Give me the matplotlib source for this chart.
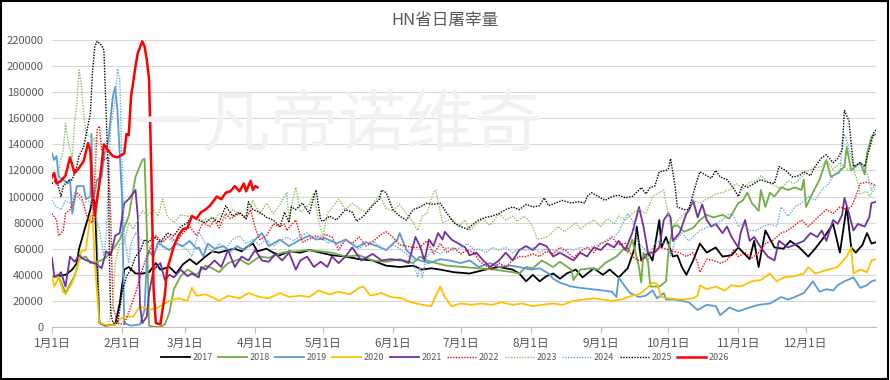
import matplotlib
matplotlib.use("Agg")
import matplotlib.pyplot as plt
from matplotlib.patches import Rectangle

plt.rcParams['font.family'] = ['Noto Sans CJK SC', 'DejaVu Sans']

# day of year -> daily slaughter (thousand head)
d2017 = [(0,38),(3,39),(6,40),(9,44),(11,49),(12,60),(15,78),(17,90),(18,99),(19,96),(20,50),(21,3),(24,1),(28,2),(30,18),(32,44),(34,46),(37,41),(40,41),(43,42),(46,49),(48,44),(52,46),(55,41),(58,48),(61,52),(64,48),(68,54),(71,58),(74,57),(78,59),(81,60),(84,58),(86,61),(89,64),(91,58),(95,60),(98,57),(101,55),(105,58),(110,57),(114,59),(119,57),(124,55),(130,54),(136,52),(142,51),(148,47),(154,46),(160,47),(164,44),(168,45),(172,44),(178,42),(185,41),(192,44),(198,46),(204,44),(207,41),(210,35),(213,40),(216,35),(219,39),(222,41),(225,37),(228,41),(232,44),(235,38),(240,45),(244,40),(247,44),(251,38),(255,45),(258,60),(259,77),(261,51),(264,57),(266,51),(269,82),(270,61),(272,69),(275,54),(277,55),(279,46),(281,40),(284,51),(287,64),(290,57),(294,61),(297,54),(301,55),(304,61),(309,52),(311,66),(313,46),(316,74),(320,61),(324,60),(327,66),(331,61),(335,54),(338,60),(342,69),(346,79),(349,57),(352,92),(354,61),(356,57),(359,63),(361,72),(363,64),(365,65)]
d2018 = [(0,38),(3,39),(6,26),(8,33),(10,39),(12,52),(15,54),(17,49),(20,50),(23,52),(26,57),(30,67),(34,85),(37,115),(40,128),(41,129),(42,75),(43,1),(46,0),(48,0),(50,2),(52,11),(54,29),(57,39),(60,44),(64,40),(68,47),(71,45),(74,42),(78,49),(83,52),(87,48),(92,54),(96,53),(102,57),(108,58),(113,59),(119,58),(124,57),(130,54),(136,55),(142,51),(148,50),(154,52),(160,49),(163,54),(166,51),(170,49),(175,47),(182,46),(189,45),(196,44),(204,42),(207,41),(210,46),(213,45),(217,51),(222,46),(225,50),(230,44),(231,36),(234,44),(239,45),(242,44),(245,49),(250,54),(254,61),(255,57),(257,67),(260,46),(261,34),(262,57),(264,50),(265,31),(269,31),(272,35),(273,57),(275,77),(277,78),(280,73),(284,76),(287,82),(290,86),(293,84),(297,86),(300,83),(304,95),(306,97),(308,103),(310,95),(313,89),(314,105),(316,92),(318,103),(320,100),(323,107),(326,105),(329,107),(332,105),(333,113),(334,92),(337,103),(340,113),(343,128),(345,115),(348,118),(351,123),(352,138),(354,120),(356,123),(358,126),(360,117),(361,133),(363,146),(365,148)]
d2019 = [(0,133),(1,128),(2,131),(3,115),(5,113),(7,110),(8,113),(9,87),(11,108),(14,108),(15,98),(17,100),(17.5,148),(18,95),(20,113),(22,115),(23,130),(25,143),(26,161),(27,177),(28,184),(29,166),(31,100),(32,3),(35,1),(39,2),(41,13),(42,52),(43,58),(45,54),(47,65),(49,62),(52,59),(55,64),(58,62),(61,66),(64,60),(65,61),(67,54),(69,64),(72,60),(76,62),(79,58),(82,62),(85,59),(90,67),(93,72),(96,62),(101,67),(105,62),(110,67),(114,70),(117,67),(121,68),(126,64),(130,67),(135,61),(139,65),(144,62),(148,59),(153,67),(154,72),(157,59),(161,52),(163,51),(167,49),(172,52),(176,51),(181,49),(185,51),(189,46),(194,49),(198,46),(203,47),(207,46),(212,44),(216,45),(220,41),(222,37),(225,34),(230,31),(234,30),(239,29),(244,28),(248,27),(250,23),(251,38),(253,33),(256,26),(260,23),(263,24),(266,28),(268,22),(271,26),(272,21),(276,21),(282,19),(286,13),(290,17),(294,16),(296,9),(300,15),(304,12),(309,15),(313,17),(318,18),(323,23),(326,21),(329,23),(333,26),(337,35),(340,27),(343,29),(346,28),(348,32),(351,35),(355,38),(358,30),(361,32),(363,35),(365,36)]
d2020 = [(0,39),(1,31),(3,38),(5,27),(6,25),(9,34),(11,44),(13,58),(15,59),(17,85),(18,86),(19,49),(21,3),(25,1),(28,2),(30,6),(32,8),(36,8),(39,16),(43,13),(47,15),(52,20),(56,22),(60,20),(62,30),(64,24),(68,25),(72,22),(74,20),(78,24),(83,22),(87,26),(92,23),(96,22),(101,26),(105,23),(110,24),(114,23),(118,28),(123,25),(127,27),(132,25),(136,30),(138,31),(141,24),(146,26),(150,23),(155,22),(159,19),(164,17),(168,16),(170,24),(172,31),(174,23),(177,16),(181,18),(186,17),(190,18),(195,17),(199,19),(204,17),(208,18),(213,16),(217,17),(222,18),(226,17),(231,20),(235,21),(240,22),(244,21),(248,20),(252,21),(257,24),(260,25),(263,29),(266,34),(268,33),(270,23),(273,22),(279,21),(284,22),(286,24),(287,32),(290,29),(294,31),(298,28),(301,32),(305,31),(310,35),(314,36),(318,41),(321,35),(324,38),(329,39),(333,41),(335,46),(338,41),(344,44),(348,46),(352,54),(354,61),(355,41),(358,44),(361,42),(363,51),(365,52)]
d2021 = [(0,53),(1,39),(3,40),(4,42),(6,31),(8,54),(10,50),(12,55),(14,52),(17,50),(20,48),(22,45),(24,58),(26,55),(28,70),(30,72),(32,95),(34,98),(37,105),(38,85),(39,16),(40,3),(42,8),(43,26),(45,44),(48,49),(50,36),(52,40),(54,38),(57,44),(60,39),(62,41),(65,38),(66,46),(68,44),(72,51),(75,46),(78,59),(81,46),(84,54),(87,51),(90,59),(93,51),(96,50),(99,56),(102,51),(105,57),(108,44),(110,51),(113,54),(116,46),(119,50),(122,46),(124,54),(127,49),(130,54),(133,61),(135,56),(137,51),(142,56),(146,51),(150,52),(155,51),(158,49),(161,69),(163,62),(165,51),(167,67),(169,62),(171,72),(173,67),(174,73),(177,67),(180,64),(183,61),(185,55),(188,57),(191,51),(194,46),(198,51),(201,57),(204,51),(207,59),(210,62),(213,59),(216,64),(219,62),(222,54),(225,57),(228,54),(231,51),(234,57),(237,54),(240,61),(243,59),(246,64),(249,61),(251,66),(254,59),(257,72),(259,85),(260,92),(262,77),(264,57),(267,57),(269,61),(271,82),(273,87),(274,84),(275,66),(278,72),(281,87),(282,89),(284,97),(286,84),(288,94),(290,82),(292,77),(294,79),(297,72),(299,77),(301,69),(304,61),(305,72),(307,82),(309,66),(311,69),(314,61),(317,54),(320,51),(322,66),(326,61),(329,63),(333,66),(336,72),(339,69),(341,74),(343,66),(346,82),(348,79),(350,86),(351,99),(353,87),(355,74),(357,79),(360,77),(362,84),(363,95),(365,96)]
d2022 = [(0,87),(2,82),(3,70),(5,74),(6,87),(8,90),(11,103),(13,100),(16,82),(18,80),(20,151),(21,154),(22,136),(23,128),(25,130),(26,85),(27,16),(29,3),(32,2),(34,11),(37,26),(40,44),(42,54),(44,62),(46,70),(49,65),(52,70),(55,65),(58,72),(61,77),(64,70),(67,80),(70,77),(72,82),(74,76),(77,87),(79,83),(83,87),(86,83),(88,90),(90,76),(92,67),(95,70),(98,79),(101,77),(103,79),(104,74),(108,82),(110,70),(111,65),(117,70),(120,67),(121,71),(124,69),(127,59),(130,67),(133,64),(136,69),(139,62),(142,65),(145,70),(148,73),(151,69),(154,63),(157,62),(160,61),(163,61),(166,66),(169,56),(172,64),(175,57),(178,61),(181,56),(184,59),(187,57),(189,51),(192,47),(195,44),(198,49),(201,46),(204,51),(207,54),(210,54),(213,56),(216,54),(219,58),(222,56),(225,61),(228,58),(231,53),(234,58),(237,61),(240,57),(243,64),(246,66),(248,69),(251,63),(254,64),(257,54),(260,51),(263,53),(266,57),(269,61),(272,60),(275,58),(278,57),(281,54),(284,57),(286,49),(287,42),(290,52),(293,51),(296,49),(299,51),(302,59),(304,54),(307,57),(310,53),(313,57),(316,64),(319,66),(323,72),(326,74),(329,78),(332,82),(335,77),(338,82),(341,87),(343,90),(346,87),(349,92),(352,90),(354,92),(356,100),(358,110),(361,111),(363,110),(365,108)]
d2023 = [(0,113),(2,118),(3,120),(5,136),(6,156),(7,143),(9,130),(10,156),(11,171),(11.5,184),(12,197),(13,186),(14,164),(15,148),(17,146),(18,143),(19,145),(20,75),(21,3),(23,0),(25,1),(27,18),(28,49),(30,64),(32,64),(34,80),(36,75),(38,82),(40,89),(42,85),(45,90),(47,85),(49,98),(51,85),(54,80),(57,86),(60,85),(63,85),(65,80),(68,83),(71,80),(74,87),(77,83),(80,90),(83,86),(86,85),(89,97),(92,86),(95,95),(98,87),(101,94),(104,103),(105,82),(106,92),(108,107),(110,88),(114,94),(116,103),(118,82),(120,69),(122,87),(124,91),(127,98),(130,90),(133,95),(136,91),(139,88),(142,94),(145,101),(148,91),(151,89),(154,94),(157,87),(160,80),(162,74),(164,85),(166,87),(168,98),(169,103),(170,105),(172,88),(173,80),(177,83),(180,77),(183,82),(185,74),(188,79),(191,83),(194,78),(198,87),(201,82),(204,85),(206,81),(209,85),(211,82),(213,77),(215,67),(219,69),(222,73),(224,77),(227,73),(230,77),(232,80),(234,75),(237,79),(240,82),(243,77),(246,83),(249,79),(251,85),(254,82),(257,87),(260,90),(263,87),(265,95),(266,100),(268,102),(271,105),(272,95),(274,77),(276,79),(279,85),(282,90),(284,97),(287,95),(290,98),(294,102),(297,103),(301,106),(303,110),(306,106),(309,111),(312,112),(314,116),(316,113),(318,110),(323,106),(326,112),(329,110),(332,115),(335,120),(338,122),(341,123),(343,128),(346,121),(349,126),(352,121),(355,122),(357,110),(358,102),(361,104),(362,100),(365,107)]
d2024 = [(0,97),(2,92),(4,90),(6,97),(8,95),(10,103),(12,99),(14,95),(17,97),(19,85),(21,75),(23,54),(24,70),(25,110),(26,153),(28,175),(29,198),(30,190),(31,131),(32,70),(34,49),(35,64),(37,72),(40,66),(43,62),(45,57),(48,64),(51,70),(54,64),(57,62),(60,59),(62,54),(65,73),(68,64),(71,57),(74,64),(77,60),(80,67),(83,70),(86,64),(89,67),(92,63),(95,67),(98,62),(101,66),(104,69),(107,66),(110,70),(113,72),(116,68),(119,70),(122,64),(124,67),(127,62),(130,67),(133,64),(136,60),(139,64),(142,66),(145,62),(148,59),(151,63),(154,60),(157,56),(160,51),(162,38),(163,46),(164,38),(166,54),(169,59),(172,56),(175,61),(178,59),(181,61),(184,64),(187,59),(189,60),(192,57),(195,61),(198,59),(201,61),(204,57),(207,60),(210,59),(213,61),(216,57),(219,60),(222,59),(225,57),(228,60),(231,59),(234,61),(237,60),(240,62),(243,64),(246,67),(249,69),(251,73),(253,80),(255,87),(257,82),(260,64),(263,59),(264,51),(266,61),(268,66),(271,64),(273,64),(274,54),(276,66),(279,72),(282,66),(284,69),(287,74),(291,77),(294,79),(297,82),(300,87),(302,85),(304,77),(306,79),(309,74),(312,74),(315,77),(318,79),(321,77),(323,92),(326,85),(329,92),(332,95),(335,100),(338,97),(341,105),(344,110),(346,116),(349,118),(350,140),(351,148),(352,143),(355,123),(358,125),(361,118),(363,105),(365,110)]
d2025 = [(0,110),(2,113),(4,100),(5,108),(7,112),(9,113),(11,123),(12,131),(14,138),(15,146),(17,164),(18,197),(19,215),(20,219),(22,216),(23,212),(24,164),(25,113),(25.5,49),(26,11),(27,3),(29,3),(30,13),(31,26),(33,39),(35,44),(37,54),(39,58),(41,67),(43,65),(45,70),(48,65),(51,72),(54,70),(57,77),(60,80),(62,85),(65,82),(68,80),(71,84),(74,80),(77,93),(80,85),(83,88),(86,83),(87,96),(89,90),(92,88),(95,84),(98,82),(101,77),(103,88),(105,80),(106,92),(108,90),(111,95),(114,87),(116,100),(117,105),(119,82),(120,81),(123,85),(126,82),(130,90),(133,88),(135,81),(138,85),(142,93),(145,98),(146,105),(148,103),(151,90),(154,85),(157,82),(160,90),(163,92),(166,95),(169,94),(172,95),(175,87),(178,80),(181,77),(184,75),(186,78),(189,82),(192,84),(195,85),(198,87),(201,90),(204,92),(207,90),(210,94),(213,92),(216,93),(218,99),(220,93),(223,95),(226,97),(230,95),(233,96),(236,95),(237,100),(239,103),(241,101),(245,97),(248,100),(251,101),(254,99),(257,100),(260,105),(261,107),(263,102),(265,107),(267,108),(269,119),(272,120),(273,121),(274,129),(276,108),(277,92),(280,90),(282,90),(285,108),(287,119),(290,116),(292,114),(294,120),(296,115),(299,113),(302,106),(304,100),(306,109),(308,107),(311,110),(314,113),(317,111),(320,110),(322,123),(325,120),(328,115),(331,116),(333,119),(336,116),(338,123),(341,130),(343,132),(346,126),(348,129),(350,136),(351,166),(353,158),(355,123),(358,126),(360,123),(362,136),(364,149),(365,151)]
d2026 = [(0,115),(1,118),(2,110),(4,112),(6,116),(8,130),(10,118),(12,122),(14,127),(16,141),(17,135),(18,100),(19,86),(21,110),(23,140),(25,135),(27,131),(29,130),(31,132),(32,133),(33,148),(34,147),(35,176),(37,200),(38,210),(40,219),(41,215),(42,205),(43,190),(44,120),(45,30),(46,3),(48,2),(50,25),(51,44),(54,62),(56,70),(58,75),(60,76),(62,85),(64,83),(66,88),(68,90),(70,93),(73,100),(75,98),(77,103),(79,104),(81,108),(83,104),(85,110),(86,104),(88,112),(89,105),(90,108),(91,107)]

years = ['2017', '2018', '2019', '2020', '2021', '2022', '2023', '2024', '2025', '2026']
month_days = [0, 31, 59, 90, 120, 151, 181, 212, 243, 273, 304, 334]
month_labels = ['1月1日', '2月1日', '3月1日', '4月1日', '5月1日', '6月1日',
                '7月1日', '8月1日', '9月1日', '10月1日', '11月1日', '12月1日']

series = [d2017, d2018, d2019, d2020, d2021, d2022, d2023, d2024, d2025, d2026]
colors = ['#000000', '#70AD47', '#5B9BD5', '#FFC000', '#7030A0',
          '#FF0000', '#8CBF5F', '#6FA8DC', '#000000', '#FF0000']
dotted = (0, (1, 1))
styles = ['-', '-', '-', '-', '-', dotted, dotted, dotted, dotted, '-']
widths = [1.3, 1.3, 1.3, 1.3, 1.3, 1.0, 1.0, 1.0, 1.0, 1.8]

fig = plt.figure(figsize=(8.9, 3.8), dpi=100)
ax = fig.add_axes([0.0584, 0.1395, 0.9259, 0.7552])

for name, data, c, ls, lw in zip(years, series, colors, styles, widths):
    xs = [p[0] for p in data]
    ys = [p[1] * 1000 for p in data]
    ax.plot(xs, ys, color=c, linestyle=ls, linewidth=lw, label=name)

ax.set_xlim(0, 365)
ax.set_ylim(0, 220000)
ax.set_yticks(range(0, 220001, 20000))
ax.set_yticklabels([str(v) for v in range(0, 220001, 20000)])
ax.set_xticks(month_days)
ax.set_xticklabels(month_labels)
ax.tick_params(axis='y', length=0, labelsize=8, labelcolor='#595959', pad=6)
ax.tick_params(axis='x', length=4, color='#BFBFBF', labelsize=8.5,
               labelcolor='#595959', pad=3)
ax.grid(axis='y', color='#D9D9D9', linewidth=0.8)
ax.set_axisbelow(True)
for s in ['left', 'right', 'top']:
    ax.spines[s].set_visible(False)
ax.spines['bottom'].set_color('#BFBFBF')

# watermark
fig.text(0.38, 0.665, '一凡帝诺维奇', fontsize=49, color='#F1F1F1',
         ha='center', va='center', zorder=0)

fig.text(0.5, 0.945, 'HN省日屠宰量', fontsize=12, color='#595959',
         ha='center', va='center')

leg = fig.legend(loc='center', bbox_to_anchor=(0.5, 1 - 358 / 380), ncol=10,
                 frameon=False, fontsize=6.5, handlelength=3.2,
                 columnspacing=0.6, handletextpad=0.3)
for t in leg.get_texts():
    t.set_color('#595959')

fig.patches.append(Rectangle((0.001, 0.002), 0.997, 0.995, transform=fig.transFigure,
                             fill=False, edgecolor='black', linewidth=1.5))

fig.savefig('out.png', dpi=100)
